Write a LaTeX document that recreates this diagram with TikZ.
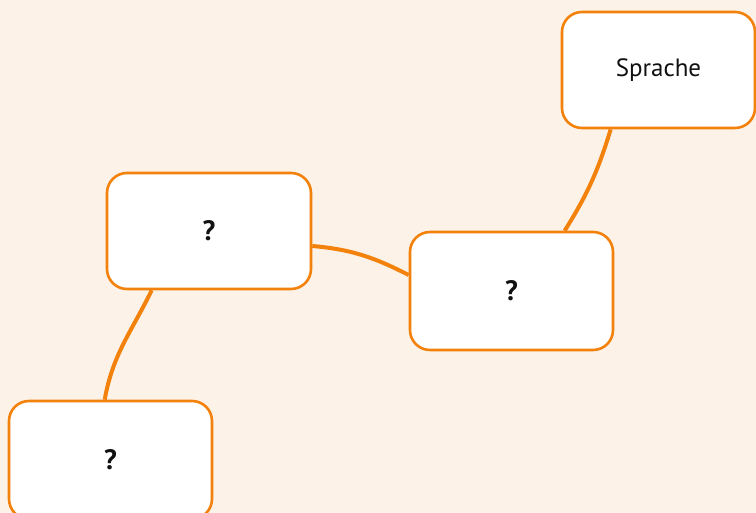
\documentclass[tikz,border=0pt]{standalone}
\usepackage{fontspec}
\setmainfont{PT Sans}
\usetikzlibrary{calc,backgrounds}
\definecolor{bgcream}{RGB}{252,242,231}
\definecolor{orangeline}{RGB}{242,130,12}
\definecolor{txt}{RGB}{17,17,17}
\tikzset{
  mapbox/.style={draw=orangeline, line width=2.6pt, fill=white, rounded corners=20pt,
    minimum width=#1, inner sep=0pt, text=txt, font=\fontsize{25}{28}\selectfont},
  mapbox/.default=203pt,
  qmark/.style={font=\fontsize{28}{30}\selectfont\bfseries},
  link/.style={draw=orangeline, line width=4pt}
}
\begin{document}
\begin{tikzpicture}[x=1pt,y=1pt]
\begin{scope}[on background layer]
\fill[bgcream] (0,0) rectangle (756,513);
\end{scope}
\useasboundingbox (0,0) rectangle (756,513);
\node[mapbox=193pt, minimum height=116pt] (sp) at (658.5,443) {Sprache};
\node[mapbox=203pt, minimum height=118pt, qmark] (mid) at (511.5,222) {?};
\node[mapbox=204pt, minimum height=116pt, qmark] (lt) at (209,282) {?};
\node[mapbox=203pt, minimum height=118pt, qmark] (bot) at (110.5,53) {?};
\coordinate (spb) at ($(sp.south west)+(50pt,0)$);
\coordinate (midt) at ($(mid.north west)+(156pt,0)$);
\coordinate (midl) at ($(mid.west)+(0,16pt)$);
\coordinate (ltr) at ($(lt.east)+(0,-15pt)$);
\coordinate (ltb) at ($(lt.south west)+(46pt,0)$);
\coordinate (bott) at ($(bot.north west)+(97pt,0)$);
\begin{scope}[on background layer]
\draw[link] (spb) to[out=-107,in=58] (midt);
\draw[link] (ltr) to[out=-5,in=153] (midl);
\draw[link] (ltb) to[out=-116,in=80] (bott);
\end{scope}
\end{tikzpicture}
\end{document}
